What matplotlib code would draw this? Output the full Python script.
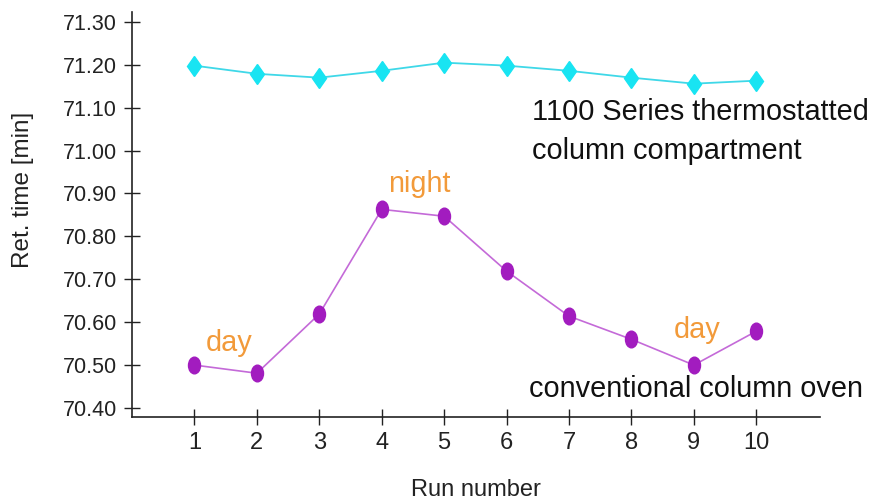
import matplotlib
matplotlib.use("Agg")
import matplotlib.pyplot as plt
from matplotlib.markers import MarkerStyle
from matplotlib.transforms import Affine2D

plt.rcParams["font.family"] = ["Liberation Sans", "DejaVu Sans"]

runs = [1, 2, 3, 4, 5, 6, 7, 8, 9, 10]
thermostatted = [71.198, 71.179, 71.170, 71.186, 71.205, 71.198, 71.186, 71.170, 71.156, 71.163]
conventional = [70.500, 70.481, 70.619, 70.863, 70.847, 70.719, 70.614, 70.560, 70.500, 70.579]
y_ticks = [70.40, 70.50, 70.60, 70.70, 70.80, 70.90, 71.00, 71.10, 71.20, 71.30]

fig = plt.figure(figsize=(8.73, 5.01), dpi=100)
ax = fig.add_axes([0.1512, 0.1677, 0.7881, 0.8083])

diamond = MarkerStyle("D", transform=Affine2D().scale(0.7, 1.0))
ax.plot(runs, thermostatted, color="#3fd8e8", lw=1.3, marker=diamond, ms=10.5,
        mfc="#18e4f2", mec="#18e4f2", zorder=3)
oval = MarkerStyle("o", transform=Affine2D().scale(0.72, 1.0))
ax.plot(runs, conventional, color="#c46ad8", lw=1.2, marker=oval, ms=12,
        mfc="#a21cbf", mec="#a21cbf", zorder=3)

ax.set_xlim(0, 11.02)
ax.set_ylim(70.379, 71.323)
ax.set_xticks(runs)
ax.set_yticks(y_ticks)
ax.set_yticklabels([f"{v:.2f}" for v in y_ticks])

for s in ("top", "right"):
    ax.spines[s].set_visible(False)
for s in ("left", "bottom"):
    ax.spines[s].set_color("#222222")
    ax.spines[s].set_linewidth(1.2)

ax.tick_params(axis="both", direction="inout", length=12, width=1, color="#222222",
               labelcolor="#222222")
ax.tick_params(axis="y", pad=5, labelsize=15.5)
ax.tick_params(axis="x", pad=5, labelsize=17)

ax.set_ylabel("Ret. time [min]", fontsize=17.5, color="#222222")
ax.yaxis.set_label_coords(-0.143, 0.56)
ax.set_xlabel("Run number", fontsize=17, color="#222222")
ax.xaxis.set_label_coords(0.5, -0.152)

ax.text(6.41, 71.045, "1100 Series thermostatted\ncolumn compartment", fontsize=20.8,
        color="#111111", va="center", ha="left", linespacing=1.52)
ax.text(6.36, 70.445, "conventional column oven", fontsize=20.8, color="#111111",
        va="center", ha="left")

orange = "#f29a3a"
ax.text(4.61, 70.922, "night", fontsize=20.8, color=orange, ha="center", va="center")
ax.text(1.55, 70.552, "day", fontsize=20.8, color=orange, ha="center", va="center")
ax.text(9.05, 70.582, "day", fontsize=20.8, color=orange, ha="center", va="center")

fig.savefig("out.png", dpi=100)
